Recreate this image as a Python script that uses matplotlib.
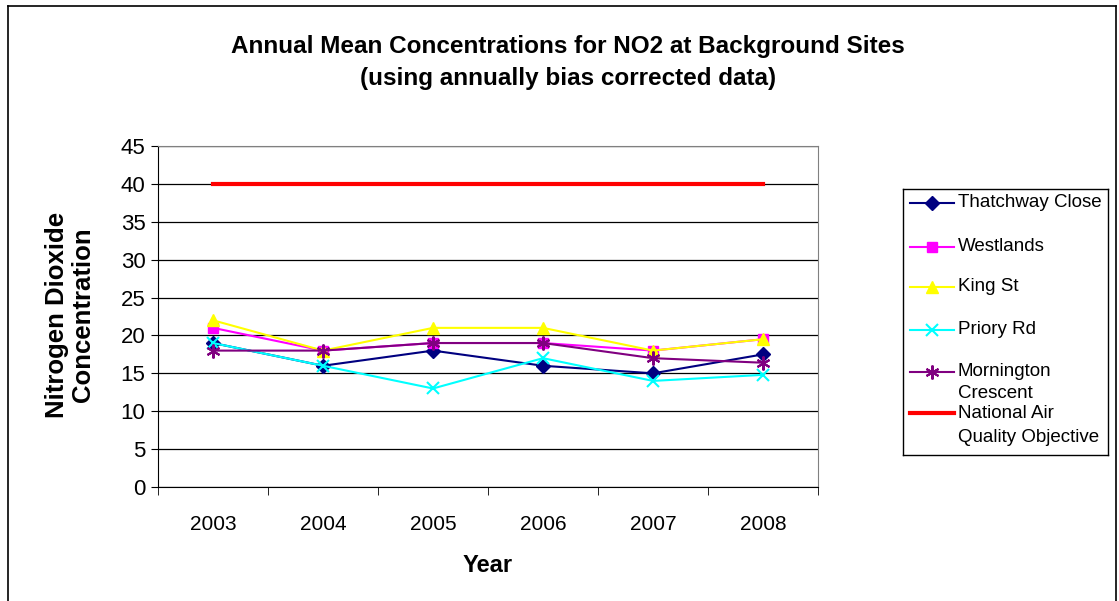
import numpy as np
import matplotlib
matplotlib.use("Agg")
import matplotlib.pyplot as plt
from matplotlib.lines import Line2D

plt.rcParams['font.family'] = ['Liberation Sans', 'DejaVu Sans']

years = ["2003", "2004", "2005", "2006", "2007", "2008"]
thatchway = [19, 16, 18, 16, 15, 17.5]
westlands = [21, 18, 19, 19, 18, 19.5]
king_st = [22, 18, 21, 21, 18, 19.5]
priory = [19, 16, 13, 17, 14, 14.8]
mornington = [18, 18, 19, 19, 17, 16.4]
objective = [40, 40, 40, 40, 40, 40]

series = [
    ("Thatchway Close", thatchway, "#000080", "D", 7),
    ("Westlands", westlands, "#FF00FF", "s", 7),
    ("King St", king_st, "#FFFF00", "^", 9),
    ("Priory Rd", priory, "#00FFFF", "x", 9),
    ("Mornington\nCrescent", mornington, "#800080", (6, 2, 0), 10),
]

W, H = 1119, 601
fig = plt.figure(figsize=(W / 100, H / 100), dpi=100)
ax = fig.add_axes([158 / W, 1 - 487 / H, (818 - 158) / W, (487 - 146) / H])

x = np.arange(len(years))
for name, vals, col, mk, ms in series:
    ax.plot(x, vals, color=col, marker=mk, markersize=ms, lw=1.5,
            markeredgewidth=1.5 if mk in ("x", (6, 2, 0)) else 1, zorder=3)
ax.plot(x, objective, color="#FF0000", lw=3, zorder=3)

ax.set_xlim(-0.5, len(years) - 0.5)
ax.set_ylim(0, 45)
ax.set_yticks(np.arange(0, 46, 5))
ax.set_xticks(x)
ax.set_xticklabels(years)
ax.set_xticks(np.arange(-0.5, len(years), 1), minor=True)
ax.tick_params(axis="x", which="major", length=0, pad=20, labelsize=15)
ax.tick_params(axis="x", which="minor", length=6, direction="out")
ax.tick_params(axis="y", length=5, direction="out", labelsize=16, pad=4)
ax.grid(axis="y", color="black", lw=0.9)
ax.set_axisbelow(True)
for s in ("top", "right"):
    ax.spines[s].set_color("#808080")
for s in ("left", "bottom"):
    ax.spines[s].set_color("black")

fig.text(568 / W, 1 - 62 / H,
         "Annual Mean Concentrations for NO2 at Background Sites\n(using annually bias corrected data)",
         ha="center", va="center", fontsize=17.5, fontweight="bold", linespacing=1.5)
fig.text(70 / W, 1 - 315 / H, "Nitrogen Dioxide\nConcentration", rotation=90,
         ha="center", va="center", fontsize=18.5, fontweight="bold", multialignment="center",
         linespacing=1.15)
fig.text(488 / W, 1 - 565 / H, "Year", ha="center", va="center", fontsize=17, fontweight="bold")

# legend box drawn in pixel coordinates
lax = fig.add_axes([903 / W, 1 - 455 / H, (1108 - 903) / W, (455 - 189) / H])
lax.set_xlim(903, 1108)
lax.set_ylim(455, 189)
lax.set_xticks([])
lax.set_yticks([])
for s in lax.spines.values():
    s.set_color("black")
    s.set_linewidth(1)
rows = [203, 247, 287, 330, 372]
for (name, vals, col, mk, ms), yy in zip(series, rows):
    lax.plot([910, 954], [yy, yy], color=col, lw=1.5)
    lax.plot([932], [yy], color=col, marker=mk, markersize=ms,
             markeredgewidth=1.5 if mk in ("x", (6, 2, 0)) else 1)
    first, *rest = name.split("\n")
    lax.text(958, yy, first, va="center", ha="left", fontsize=13.5)
    if rest:
        lax.text(958, yy + 21, rest[0], va="center", ha="left", fontsize=13.5)
lax.plot([910, 954], [413, 413], color="#FF0000", lw=3)
lax.text(958, 413, "National Air", va="center", ha="left", fontsize=13.5)
lax.text(958, 437, "Quality Objective", va="center", ha="left", fontsize=13.5)

# outer chart border (left, top, right)
for xs, ys in [([8, 8], [601, 6]), ([8, 1116], [6, 6]), ([1116, 1116], [6, 601])]:
    fig.add_artist(Line2D([v / W for v in xs], [1 - v / H for v in ys], color="black", lw=1.2))

fig.savefig("out.png", dpi=100)
